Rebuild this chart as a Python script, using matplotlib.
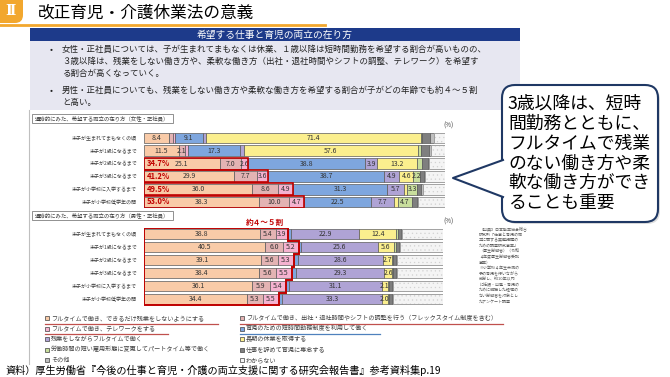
import matplotlib.pyplot as plt
from matplotlib.patches import Rectangle, FancyBboxPatch, Polygon

plt.rcParams['font.family'] = ['Noto Sans CJK JP', 'DejaVu Sans']
plt.rcParams['hatch.linewidth'] = 0.4

W, H = 670, 377

categories = ['末子が生まれてまもなくの頃', '末子が1歳になるまで', '末子が2歳になるまで',
              '末子が3歳になるまで', '末子が小学校に入学するまで', '末子が小学校低学年の間']

legend_labels = ['フルタイムで働き、できるだけ残業をしないようにする',
                 'フルタイムで働き、出社・退社時間やシフトの調整を行う（フレックスタイム制度を含む）',
                 'フルタイムで働き、テレワークをする',
                 '育児のための短時間勤務制度を利用して働く',
                 '残業をしながらフルタイムで働く',
                 '長期の休業を取得する',
                 '労働時間の短い雇用形態に変更してパートタイム等で働く',
                 '仕事を辞めて育児に専念する',
                 'その他',
                 'わからない']
colors = ['#F9CBA8', '#E3B3B3', '#F5B2D0', '#7EA6DE', '#AFA3D5',
          '#FBEF8E', '#C8DE9C', '#7F7F7F', '#BFBFBF', '#F4F4F4']

# 女性・正社員 (%)
f_no_overtime = [8.4, 11.5, 25.1, 29.9, 36.0, 38.3]
f_flex = [1.2, 2.1, 7.0, 7.7, 8.6, 10.0]
f_telework = [0.8, 0.9, 2.6, 3.6, 4.9, 4.7]
f_short = [9.1, 17.3, 38.8, 38.7, 31.3, 22.5]
f_overtime = [1.0, 1.5, 3.9, 4.9, 5.7, 7.7]
f_leave = [71.4, 57.6, 13.2, 4.6, 1.0, 1.2]
f_part = [0.5, 1.1, 1.7, 2.2, 3.3, 4.7]
f_quit = [2.7, 2.8, 2.0, 1.3, 1.3, 1.5]
f_other = [1.1, 0.5, 0.5, 0.5, 0.5, 0.5]
f_unknown = [3.8, 4.6, 5.2, 6.6, 7.4, 8.9]

# 男性・正社員 (%)
m_no_overtime = [38.8, 40.5, 39.1, 38.4, 36.1, 34.4]
m_flex = [5.4, 6.0, 5.6, 5.6, 5.9, 5.3]
m_telework = [3.9, 5.2, 5.3, 5.5, 5.4, 5.5]
m_short = [1.0, 0.8, 1.5, 1.5, 1.0, 1.0]
m_overtime = [22.9, 25.6, 28.6, 29.3, 31.1, 33.3]
m_leave = [12.4, 5.6, 2.7, 2.6, 2.1, 2.0]
m_part = [0.5, 0.5, 0.5, 0.5, 0.5, 0.5]
m_quit = [1.2, 1.0, 1.0, 1.0, 1.0, 1.0]
m_other = [0.3, 0.3, 0.3, 0.3, 0.3, 0.3]
m_unknown = [13.6, 14.5, 15.4, 15.3, 16.6, 16.7]

female = [f_no_overtime, f_flex, f_telework, f_short, f_overtime,
          f_leave, f_part, f_quit, f_other, f_unknown]
male = [m_no_overtime, m_flex, m_telework, m_short, m_overtime,
        m_leave, m_part, m_quit, m_other, m_unknown]

RED = '#C00000'

fig = plt.figure(figsize=(W / 100, H / 100), dpi=100)
bg = fig.add_axes([0, 0, 1, 1])
bg.set_xlim(0, W)
bg.set_ylim(H, 0)
bg.axis('off')


def px_axes(x0, y0, x1, y1):
    return fig.add_axes([x0 / W, 1 - y1 / H, (x1 - x0) / W, (y1 - y0) / H])


# タイトル
bg.add_patch(FancyBboxPatch((-8, -8), 31, 31, boxstyle='round,pad=0,rounding_size=8',
                            fc='#F2A72E', ec='none'))
bg.text(10, 11, 'Ⅱ', color='white', fontsize=10, fontweight='bold',
        family='DejaVu Serif', ha='center', va='center')
bg.plot([0, 325], [25, 25], color='#F2A72E', lw=2)
bg.text(38, 13, '改正育児・介護休業法の意義', fontsize=12, va='center')

# 見出しと箇条書き
bg.add_patch(Rectangle((30, 28), 490, 13, fc='#1D3A8A', ec='none'))
bg.text(275, 34.5, '希望する仕事と育児の両立の在り方', color='white', fontsize=7,
        ha='center', va='center')
bg.add_patch(Rectangle((30, 41), 490, 69, fc='#E7E7F1', ec='none'))
bullet1 = ['女性・正社員については、子が生まれてまもなくは休業、１歳以降は短時間勤務を希望する割合が高いものの、',
           '３歳以降は、残業をしない働き方や、柔軟な働き方（出社・退社時間やシフトの調整、テレワーク）を希望す',
           'る割合が高くなっていく。']
bullet2 = ['男性・正社員についても、残業をしない働き方や柔軟な働き方を希望する割合が子がどの年齢でも約４～５割',
           'と高い。']
for j, line in enumerate(bullet1):
    bg.text(62, 49.5 + 11.8 * j, line, fontsize=6.1, va='center', color='#222222')
for j, line in enumerate(bullet2):
    bg.text(62, 90.5 + 11.8 * j, line, fontsize=6.1, va='center', color='#222222')
bg.text(50, 49.5, '•', fontsize=6.5, va='center', color='#222222')
bg.text(50, 90.5, '•', fontsize=6.5, va='center', color='#222222')

bg.plot([29, 29], [110, 364], color='#BFBFBF', lw=0.8)


def draw_chart(ax, series, heading_y, heading):
    n = len(categories)
    left = [0.0] * n
    for k, vals in enumerate(series):
        last = k == len(series) - 1
        ax.barh(range(n), vals, left=left, height=0.84, color=colors[k],
                edgecolor='#D2D2D2' if last else '#5A5A5A', lw=0.5,
                hatch='....' if last else None)
        if last:
            ax.barh(range(n), vals, left=left, height=0.84, fill=False,
                    edgecolor='#8C8C8C', lw=0.5)
        if k < 7:
            for i, v in enumerate(vals):
                if v >= 2:
                    ax.text(left[i] + v / 2, i, f'{v:.1f}', ha='center', va='center',
                            fontsize=5, color='#333333')
        left = [a + b for a, b in zip(left, vals)]
    ax.set_xlim(0, 100)
    ax.set_ylim(n - 0.5, -0.5)
    ax.set_yticks(range(n))
    ax.set_yticklabels(categories, fontsize=3.6, color='#404040')
    ax.tick_params(axis='y', length=0, pad=5)
    ax.set_xticks([])
    for s in ax.spines.values():
        s.set_visible(False)
    bg.add_patch(Rectangle((32, heading_y), 141, 9, fc='white', ec='#7F7F7F', lw=0.6))
    bg.text(35, heading_y + 4.5, heading, fontsize=3.9, va='center', color='#404040')


# 女性
ax_f = px_axes(144, 131.6, 445, 208.4)
draw_chart(ax_f, female, 114, '通時的にみた、希望する両立の在り方（女性・正社員）')
bg.text(448, 126, '(%)', fontsize=4.5, color='#404040', ha='center', va='center')
for i in range(2, 6):
    s = f_no_overtime[i] + f_flex[i] + f_telework[i]
    ax_f.add_patch(Rectangle((0, i - 0.47), s, 0.94, fill=False, ec=RED, lw=1.2, zorder=5))
    ax_f.text(0.8, i, f'{s:.1f}%', fontsize=5.5, fontweight='bold', color=RED,
              va='center', ha='left', zorder=6)

# 男性
ax_m = px_axes(144, 227.5, 443, 305.5)
draw_chart(ax_m, male, 211, '通時的にみた、希望する両立の在り方（男性・正社員）')
bg.text(448, 222, '(%)', fontsize=4.5, color='#404040', ha='center', va='center')
pts = [(0, -0.48)]
for i in range(6):
    s = m_no_overtime[i] + m_flex[i] + m_telework[i]
    top = -0.48 if i == 0 else i - 0.5
    bot = 5.48 if i == 5 else i + 0.5
    pts += [(s, top), (s, bot)]
pts.append((0, 5.48))
ax_m.add_patch(Polygon(pts, closed=True, fill=False, ec=RED, lw=1.4, zorder=5))
bg.text(265, 222, '約４～５割', fontsize=5.5, fontweight='bold', color=RED,
        ha='center', va='center')

# 凡例
leg_x = [47, 242]
leg_y = [318, 328.5, 339, 349.5, 360]
for k, lab in enumerate(legend_labels):
    col, row = k % 2, k // 2
    x, y = leg_x[col], leg_y[row]
    bg.add_patch(Rectangle((x - 2, y - 2), 4, 4, fc=colors[k], ec='#404040', lw=0.5))
    bg.text(x + 4, y, lab, fontsize=4.4, va='center', color='#404040')
bg.plot([45, 218], [323.5, 323.5], color='#C0504D', lw=0.9)
bg.plot([45, 168], [334, 334], color='#C0504D', lw=0.9)
bg.plot([240, 503], [323.5, 323.5], color='#C0504D', lw=0.9)
bg.plot([240, 380], [334, 334], color='#4F81BD', lw=0.9)

# 出典メモ
notes = ['【出典】日本能率協会総合', '研究所「仕事と育児の両', '立に関する実態把握の',
         'ための調査研究事業」', '（厚生労働省）（令和', '４年度厚生労働省委託',
         '事業）', '※小学校４年生未満の', '子の育児を行いながら', '就労し、約10年以内',
         'に妊娠・出産・育児の', 'ために離職した経験の', 'ない労働者を対象とし',
         'たアンケート調査']
for j, line in enumerate(notes):
    bg.text(479, 229 + 5.6 * j, line, fontsize=2.9, va='center', color='#595959')

bg.text(5, 370, '資料）厚生労働省『今後の仕事と育児・介護の両立支援に関する研究会報告書』参考資料集p.19',
        fontsize=7.3, va='center')

# 吹き出し
bg.add_patch(FancyBboxPatch((504, 87), 156, 137, boxstyle='round,pad=0,rounding_size=13',
                            fc='#BFBFBF', ec='none', alpha=0.5))
bg.add_patch(FancyBboxPatch((502, 85), 156, 137, boxstyle='round,pad=0,rounding_size=13',
                            fc='white', ec='#1F3864', lw=1.5))
bg.add_patch(Polygon([(453, 178), (504, 160), (504, 197)], closed=True, fc='white', ec='none'))
bg.plot([503, 453, 503], [160, 178, 197], color='#1F3864', lw=1.5)
callout = ['3歳以降は、短時', '間勤務とともに、', 'フルタイムで残業', 'のない働き方や柔',
           '軟な働き方ができ', 'ることも重要']
for j, line in enumerate(callout):
    bg.text(508, 104 + 19.8 * j, line, fontsize=12.8, va='center')

fig.savefig('out.png', dpi=100)
